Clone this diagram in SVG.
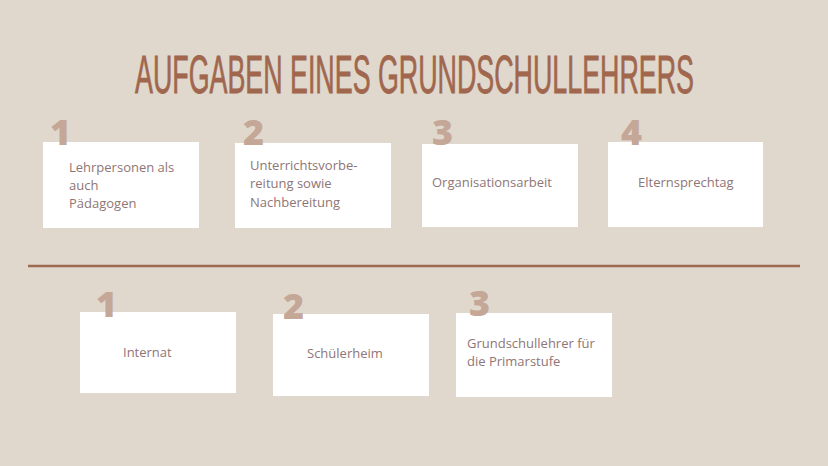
<svg xmlns="http://www.w3.org/2000/svg" width="828" height="466" viewBox="0 0 828 466">
<style>
.bg{fill:#e0d8cc}
.box{fill:#ffffff}
.num{font-family:"Open Sans","DejaVu Sans",sans-serif;font-weight:800;font-size:36px;fill:#c4a796}
.txt{font-family:"Open Sans","Noto Sans",sans-serif;font-weight:400;font-size:13px;fill:#8e7676}
.title{font-family:"Liberation Sans","Arial",sans-serif;font-size:54px;fill:#a0674e;stroke:#a0674e;stroke-width:0.8}
</style>
<rect class="bg" x="0" y="0" width="828" height="466"/>
<g id="title" transform="translate(135,93) scale(0.5,1)">
<text class="title" x="0" y="0" textLength="1118" lengthAdjust="spacingAndGlyphs">AUFGABEN EINES GRUNDSCHULLEHRERS</text>
</g>
<g id="connectors">
<line x1="28" y1="266" x2="800" y2="266" stroke="#9c6a50" stroke-width="2.5"/>
</g>
<g id="top1">
<rect class="box" x="43" y="142" width="156" height="86"/>
<text class="num" x="50" y="145">1</text>
<text class="txt" x="69" y="172">Lehrpersonen als</text>
<text class="txt" x="69" y="190">auch</text>
<text class="txt" x="69" y="208">Pädagogen</text>
</g>
<g id="top2">
<rect class="box" x="235" y="143" width="156" height="85"/>
<text class="num" x="243" y="145">2</text>
<text class="txt" x="250" y="170">Unterrichtsvorbe-</text>
<text class="txt" x="250" y="188">reitung sowie</text>
<text class="txt" x="250" y="207">Nachbereitung</text>
</g>
<g id="top3">
<rect class="box" x="422" y="144" width="156" height="83"/>
<text class="num" x="432" y="145">3</text>
<text class="txt" x="432" y="187">Organisationsarbeit</text>
</g>
<g id="top4">
<rect class="box" x="608" y="142" width="155" height="85"/>
<text class="num" x="621" y="145">4</text>
<text class="txt" x="638" y="187">Elternsprechtag</text>
</g>
<g id="bot1">
<rect class="box" x="80" y="312" width="156" height="81"/>
<text class="num" x="96" y="317">1</text>
<text class="txt" x="123" y="357">Internat</text>
</g>
<g id="bot2">
<rect class="box" x="273" y="314" width="156" height="82"/>
<text class="num" x="283" y="319">2</text>
<text class="txt" x="307" y="358">Schülerheim</text>
</g>
<g id="bot3">
<rect class="box" x="456" y="313" width="156" height="84"/>
<text class="num" x="469" y="316">3</text>
<text class="txt" x="467" y="348">Grundschullehrer für</text>
<text class="txt" x="467" y="366">die Primarstufe</text>
</g>
</svg>
